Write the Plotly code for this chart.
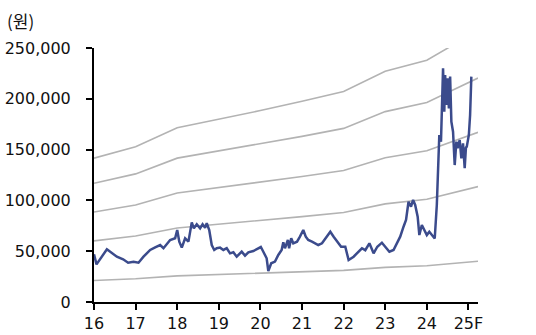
import plotly.graph_objects as go

# Share price (won)
price_x = [2016.00, 2016.06, 2016.31, 2016.38, 2016.55, 2016.70, 2016.82, 2016.95, 2017.07, 2017.19,
           2017.35, 2017.47, 2017.59, 2017.67, 2017.83, 2017.95, 2018.00, 2018.05, 2018.11, 2018.19,
           2018.27, 2018.35, 2018.40, 2018.47, 2018.55, 2018.61, 2018.67, 2018.71, 2018.77, 2018.83,
           2018.89, 2018.95, 2019.03, 2019.11, 2019.19, 2019.27, 2019.35, 2019.43, 2019.55, 2019.63,
           2019.71, 2019.83, 2019.95, 2020.01, 2020.07, 2020.15, 2020.19, 2020.26, 2020.35, 2020.43,
           2020.51, 2020.55, 2020.59, 2020.66, 2020.69, 2020.74, 2020.79, 2020.88, 2020.95, 2021.03,
           2021.09, 2021.15, 2021.24, 2021.32, 2021.39, 2021.48, 2021.56, 2021.68, 2021.76, 2021.86,
           2021.94, 2022.04, 2022.12, 2022.24, 2022.36, 2022.44, 2022.52, 2022.62, 2022.72, 2022.81,
           2022.92, 2023.00, 2023.10, 2023.20, 2023.28, 2023.36, 2023.44, 2023.50, 2023.56, 2023.62,
           2023.67, 2023.72, 2023.78, 2023.82, 2023.88, 2023.94, 2024.00, 2024.06, 2024.15, 2024.19,
           2024.24, 2024.28, 2024.30, 2024.34, 2024.36, 2024.39, 2024.42, 2024.44, 2024.47, 2024.50,
           2024.53, 2024.56, 2024.59, 2024.63, 2024.67, 2024.71, 2024.74, 2024.79, 2024.83, 2024.87,
           2024.91, 2024.94, 2024.96, 2025.01, 2025.04, 2025.07]
price_y = [47000, 37000, 51900, 49500, 44600, 42000, 38700, 39700, 38700, 44600,
           51200, 53800, 56100, 52900, 61000, 62700, 70900, 59400, 53500, 62700,
           59400, 78400, 72500, 76500, 72500, 76500, 73100, 77500, 70900, 56100,
           51200, 52900, 53500, 51200, 52900, 47900, 48900, 44600, 49500, 45600,
           48900, 50200, 52900, 54100, 49500, 43000, 30500, 38100, 39700, 46300,
           51200, 58800, 52900, 61000, 52900, 62700, 57800, 59400, 64300, 70900,
           64300, 61000, 59400, 57800, 56100, 57800, 62700, 69200, 64300, 59400,
           54400, 54400, 41300, 44600, 49500, 52900, 51000, 57800, 47900, 54400,
           58400, 54400, 49500, 51200, 57800, 64300, 74100, 80700, 98700, 93800,
           100400, 95500, 84000, 65900, 75800, 70900, 65900, 69200, 64300, 62500,
           95500, 144700, 164400, 157800, 184000, 230000, 187300, 223400, 193900, 220200,
           190600, 221800, 177500, 167600, 134800, 157800, 151300, 159400, 141400, 156200,
           131600, 152000, 152900, 164400, 184000, 221800]

# PER/PBR band lines (won)
band_x = [2016, 2017, 2018, 2019, 2020, 2021, 2022, 2023, 2024, 2025.23]
band_06 = [21200, 22900, 25700, 27000, 28300, 29600, 31100, 34100, 35700, 40100]
band_17 = [60200, 64900, 72900, 76500, 80100, 84000, 88100, 96600, 101200, 113600]
band_25 = [88500, 95500, 107300, 112500, 117800, 123500, 129500, 142000, 148800, 167000]
band_33 = [116800, 126100, 141600, 148500, 155400, 163000, 170900, 187400, 196400, 220400]
band_40 = [141600, 152800, 171600, 180000, 188400, 197600, 207200, 227200, 238000, 267200]
band_labels = ["4.0x", "3.3x", "2.5x", "1.7x", "0.6x"]
label_y = [255900, 209600, 158400, 109200, 38900]

x_ticks = [2016, 2017, 2018, 2019, 2020, 2021, 2022, 2023, 2024, 2025]
x_ticktext = ["16", "17", "18", "19", "20", "21", "22", "23", "24", "25F"]
y_ticks = [0, 50000, 100000, 150000, 200000, 250000]
y_ticktext = ["0", "50,000", "100,000", "150,000", "200,000", "250,000"]

fig = go.Figure()
for b in [band_40, band_33, band_25, band_17, band_06]:
    fig.add_trace(go.Scatter(x=band_x, y=b, mode="lines",
                             line=dict(color="#b3b3b3", width=1.6), hoverinfo="skip"))
fig.add_trace(go.Scatter(x=price_x, y=price_y, mode="lines",
                         line=dict(color="#3b4b8c", width=2.5)))

font = dict(family="DejaVu Sans", size=16, color="#111111")
for lab, ly in zip(band_labels, label_y):
    fig.add_annotation(x=2025.31, y=ly, xref="x", yref="y", text=lab, showarrow=False,
                       xanchor="left", yanchor="middle", font=font)
fig.add_annotation(x=-0.232, y=1.108, xref="paper", yref="paper", text="(원)", showarrow=False,
                   xanchor="left", yanchor="middle",
                   font=dict(family="Noto Sans CJK KR", size=17, color="#111111"))

fig.update_layout(
    width=536, height=335, margin=dict(l=94, r=58, t=48, b=33, autoexpand=False),
    paper_bgcolor="white", plot_bgcolor="white", showlegend=False,
    font=font,
)
fig.update_xaxes(range=[2016, 2025.23], tickvals=x_ticks, ticktext=x_ticktext, automargin=False,
                 showgrid=False, zeroline=False, showline=True, linecolor="black", linewidth=2,
                 ticks="outside", ticklen=6, tickwidth=2, tickcolor="black", tickfont=font)
fig.update_yaxes(range=[0, 250000], tickvals=y_ticks, ticktext=y_ticktext, automargin=False,
                 showgrid=False, zeroline=False, showline=True, linecolor="black", linewidth=2,
                 ticks="outside", ticklen=6, tickwidth=2, tickcolor="black", tickfont=font,
                 ticklabelstandoff=12)

fig.write_html("out.html")
